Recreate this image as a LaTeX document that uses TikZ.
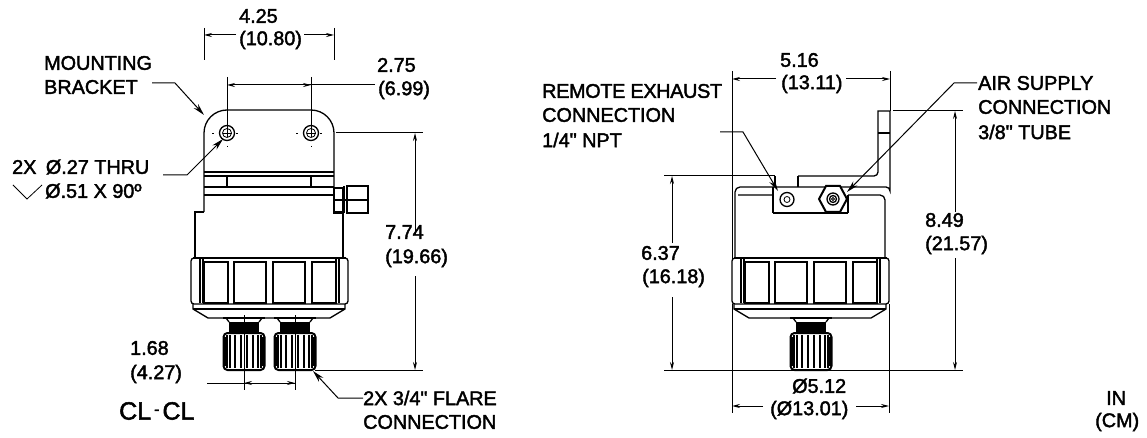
\documentclass[tikz,border=0pt]{standalone}
\usepackage{fontspec}
\setmainfont[FakeBold=2,Ligatures=TeXOff]{Liberation Sans}
\usetikzlibrary{arrows.meta}
\tikzset{
  outl/.style={line width=1.3pt,black},
  heavy/.style={line width=2pt,black},
  thin line/.style={line width=0.8pt,black},
  dimline/.style={line width=1pt,black},
  dimarrow/.style={dimline,-{Stealth[length=8pt,width=4pt]}},
  leadarrow/.style={line width=1pt,black,-{Stealth[length=12pt,width=6pt]}},
  lbl/.style={anchor=west,inner sep=0pt,font=\fontsize{19.8}{20}\selectfont,text=black},
  center mark/.style={line width=0.8pt,dash pattern=on 1.5pt off 5pt},
}
\newcommand{\NutBody}[1]{%
  \begin{scope}[shift={(#1,0)}]
    \draw[outl,rounded corners=3pt] (0,258) rectangle (157,304);
    \draw[heavy] (2,258) -- (155,258);
    \draw[outl] (9,259)--(9,303) (12,259)--(12,303) (148,259)--(148,303) (145,259)--(145,303);
    \foreach \a/\b in {13/37,43/75,82/114,121/145}{
      \draw[heavy] (\a,262) rectangle (\b,303);
    }
    \draw[outl] (2,304)--(2,309)--(17,318)--(139,318)--(154,309)--(154,304);
    \draw[outl] (2,309)--(154,309);
  \end{scope}}
\newcommand{\Fitting}[1]{%
  \begin{scope}[shift={(#1,0)}]
    \draw[outl] (-21,318)--(21,318);
    \draw[outl] (-18,318)--(-15,322) (18,318)--(15,322);
    \fill[black] (-15,322) rectangle (15,332);
    \draw[heavy,rounded corners=4pt] (-20.5,333) rectangle (20.5,370);
    \foreach \o in {-17,-14,-9,-3,3,9,14,17}{
      \draw[outl] (\o,335)--(\o,368);
    }
    \draw[line width=2.4pt] (-18.5,337)--(-18.5,366) (18.5,337)--(18.5,366);
  \end{scope}}
\newcommand{\Hole}[1]{%
  \draw[outl] (#1,133) circle (7.5);
  \draw[thin line] (#1,133) circle (4.5);
  \draw[thin line] (#1-4.5,133)--(#1+4.5,133) (#1,128.5)--(#1,137.5);
  \draw[center mark] (#1-15,133)--(#1-9,133) (#1+9,133)--(#1+15,133) (#1,146)--(#1,147);
}
\begin{document}
\begin{tikzpicture}[x=1pt,y=-1pt]
\useasboundingbox (0,0) rectangle (1147,438);
\fill[white] (0,0) rectangle (1147,438);

% ---------- left view ----------
\draw[outl] (204,212)--(204,133) arc[start angle=180,end angle=270,radius=23] -- (311,110)
   arc[start angle=270,end angle=360,radius=23] -- (334,212);
\draw[outl] (204,172)--(334,172) (204,176)--(334,176);
\draw[outl] (227,176)--(227,187) (311,176)--(311,187);
\draw[heavy] (204,187)--(334,187);
\draw[outl] (204,195)--(334,195);
\draw[outl] (204,212)--(195,212)--(195,258);
\draw[outl] (334,212)--(343,212)--(343,258);
\Hole{227}
\Hole{311}
% side fitting
\draw[outl] (334,188) rectangle (343,213);
\draw[outl] (334,200)--(368,200);
\draw[heavy] (343.5,186)--(343.5,213);
\draw[heavy] (346.5,186) rectangle (367.5,213);
\NutBody{191}
\Fitting{244}
\Fitting{295}

% left dimensions
\coordinate (a1) at (204,28); \coordinate (a2) at (204,35);
\coordinate (b1) at (334,28); \coordinate (b2) at (334,35);
\draw[dimline] (a1)--(204,60) (b1)--(334,60);
\draw[dimarrow] (236,35)--(a2);
\draw[dimarrow] (304,35)--(b2);
\coordinate (c1) at (227,77); \coordinate (c2) at (311,77);
\draw[dimline] (c1)--(227,133) (c2)--(311,133);
\draw[dimarrow] (375,85)--(227,85);
\draw[dimarrow] (240,85)--(311,85);
\coordinate (d1) at (423,133); \coordinate (d2) at (423,370);
\draw[dimline] (336,133)--(d1) (315,370)--(d2);
\draw[dimarrow] (415,235)--(415,133);
\draw[dimarrow] (415,276)--(415,370);
\coordinate (e1) at (244,315); \coordinate (e2) at (295,315);
\draw[dimline] (e1)--(244,390) (e2)--(295,390);
\draw[dimarrow] (295,383)--(244,383);
\draw[dimarrow] (207,383)--(295,383);
\coordinate (f1) at (152,83); \coordinate (f2) at (175,83);
\draw[leadarrow] (f1)--(f2)--(204,115);
\coordinate (g1) at (163,175); \coordinate (g2) at (187,175);
\draw[leadarrow] (g1)--(g2)--(223,139);
\coordinate (h1) at (363,398); \coordinate (h2) at (338,398);
\draw[leadarrow] (h1)--(h2)--(313,371);
\coordinate (v1) at (13,185); \coordinate (v2) at (27,199); \coordinate (v3) at (42,185);
\draw[thin line] (v1)--(v2)--(v3);

\node[lbl] (t425) at (239,16) {4.25};
\node[lbl] (t1080) at (239,40) {(10.80)};
\node[lbl] (t275) at (377,65) {2.75};
\node[lbl] (t699) at (378,90) {(6.99)};
\node[lbl] (tmount) at (44,63) {MOUNTING};
\node[lbl] (tbrack) at (44,87) {BRACKET};
\node[lbl] (tthru) at (12,167) {2X\hspace{4pt} Ø.27 THRU};
\node[lbl] (t51) at (45,191) {Ø.51 X 90º};
\node[lbl] (t774) at (385,232) {7.74};
\node[lbl] (t1966) at (385,258) {(19.66)};
\node[lbl] (t168) at (130,348) {1.68};
\node[lbl] (t427) at (130,374) {(4.27)};
\node[lbl,font=\fontsize{25}{25}\selectfont] (tcl) at (119,411) {CL\raisebox{5pt}{\fontsize{16}{16}\selectfont\hspace{3pt}-\hspace{3pt}}CL};
\node[lbl] (tflare) at (363,398) {2X 3/4" FLARE};
\node[lbl] (tconn) at (363,422) {CONNECTION};

% ---------- right view ----------
\draw[outl] (735,258)--(735,192) arc[start angle=180,end angle=270,radius=5] -- (886,187)
   arc[start angle=270,end angle=360,radius=4] -- (890,111) -- (878,111) -- (878,172)
   arc[start angle=0,end angle=90,radius=4] -- (798,176);
\draw[outl] (878,133)--(890,133);
\draw[outl] (775,187)--(775,176) (798,176)--(798,187);
\draw[outl] (738,195)--(773,195) (848,195)--(880,195) arc[start angle=270,end angle=360,radius=5] -- (885,258);
\draw[outl] (773,187)--(773,213) (848,195)--(848,213);
\draw[heavy] (773,213)--(848,213);
\draw[outl] (787,199.5) circle (7);
\draw[thin line] (787,199.5) circle (3);
\fill[white] (847,199)--(840,185)--(826,185)--(819,199)--(826,213)--(840,213)--cycle;
\draw[heavy] (847,199)--(840,186)--(826,186)--(819,199)--(826,212)--(840,212)--cycle;
\draw[outl] (833,199) circle (6);
\draw[outl] (833,199) circle (3.5);
\draw[thin line] (833,199) circle (1.5);
\NutBody{732}
\Fitting{811}

% right dimensions
\coordinate (i1) at (732,71); \coordinate (i2) at (890,71);
\draw[dimline] (i1)--(732,260) (i2)--(890,111);
\draw[dimarrow] (776,79)--(732,79);
\draw[dimarrow] (846,79)--(890,79);
\coordinate (j1) at (664,176); \coordinate (j2) at (664,370); \coordinate (j3) at (963,370); \coordinate (j4) at (963,111);
\draw[dimline] (j1)--(775,176);
\draw[dimline] (j2)--(j3);
\draw[dimline] (893,111)--(j4);
\draw[dimarrow] (672,243)--(672,176);
\draw[dimarrow] (672,297)--(672,370);
\draw[dimarrow] (955,212)--(955,111);
\draw[dimarrow] (955,258)--(955,370);
\coordinate (k1) at (732,413); \coordinate (k2) at (889,413);
\draw[dimline] (732,304)--(k1) (889,304)--(k2);
\draw[dimarrow] (763,406)--(732,406);
\draw[dimarrow] (856,406)--(889,406);
\coordinate (m1) at (720,132); \coordinate (m2) at (743,132);
\draw[leadarrow] (m1)--(m2)--(778,191);
\coordinate (n1) at (977,83); \coordinate (n2) at (954,83);
\draw[leadarrow] (n1)--(n2)--(847,192);

\node[lbl] (t516) at (780,60) {5.16};
\node[lbl] (t1311) at (781,84) {(13.11)};
\node[lbl] (trem) at (542,91) {\addfontfeature{LetterSpace=-1.6}REMOTE EXHAUST};
\node[lbl] (tcon2) at (542,115) {CONNECTION};
\node[lbl] (tnpt) at (542,140) {1/4" NPT};
\node[lbl] (tair) at (978,83) {AIR SUPPLY};
\node[lbl] (tcon3) at (978,107) {CONNECTION};
\node[lbl] (ttube) at (978,132) {3/8" TUBE};
\node[lbl] (t637) at (641,253) {6.37};
\node[lbl] (t1618) at (642,278) {(16.18)};
\node[lbl] (t849) at (925,220) {8.49};
\node[lbl] (t2157) at (925,245) {(21.57)};
\node[lbl] (t512) at (792,386) {Ø5.12};
\node[lbl] (t1301) at (770,410) {(Ø13.01)};
\node[lbl] (tin) at (1106,398) {IN};
\node[lbl] (tcm) at (1095,422) {(CM)};
\end{tikzpicture}
\end{document}
